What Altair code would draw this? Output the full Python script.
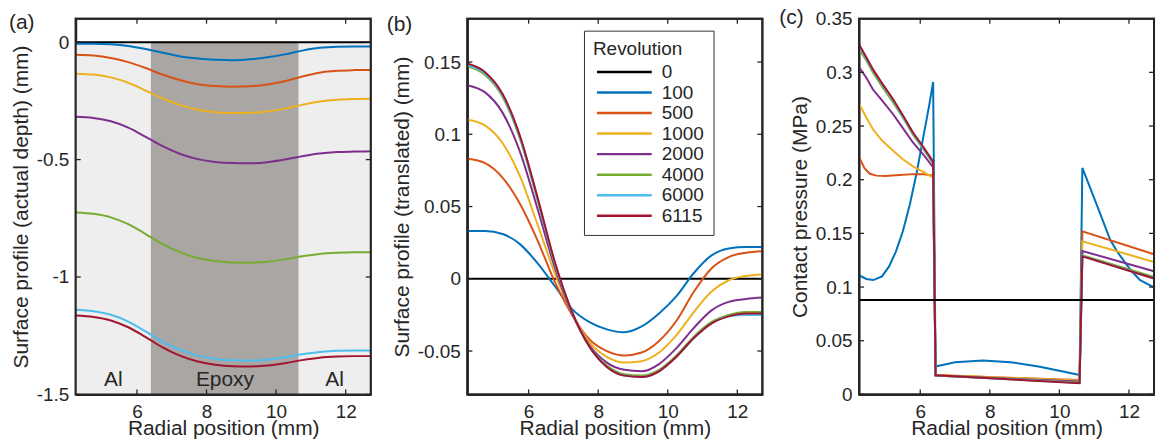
import altair as alt
import pandas as pd

# ---------------- data ----------------
REVS = ["0", "100", "500", "1000", "2000", "4000", "6000", "6115"]
COLORS = ["#000000", "#0072BD", "#D95319", "#EDB120", "#7E2F8E", "#77AC30", "#4DBEEE", "#A2142F"]

X_PROFILE = [4.24, 4.75, 5.25, 5.75, 6.25, 6.75, 7.25, 7.75, 8.25, 8.75,
             9.25, 9.75, 10.25, 10.75, 11.25, 11.75, 12.25, 12.72]

# (a) actual depth (mm)
A_0 = [0, 0, 0, 0, 0, 0, 0, 0, 0, 0, 0, 0, 0, 0, 0, 0, 0, 0]
A_100 = [-0.007, -0.007, -0.009, -0.016, -0.029, -0.045, -0.061, -0.070, -0.075, -0.077,
         -0.073, -0.064, -0.052, -0.036, -0.024, -0.019, -0.018, -0.018]
A_500 = [-0.054, -0.057, -0.067, -0.085, -0.110, -0.139, -0.162, -0.179, -0.187, -0.190,
         -0.188, -0.180, -0.166, -0.146, -0.130, -0.122, -0.119, -0.118]
A_1000 = [-0.134, -0.138, -0.150, -0.173, -0.206, -0.240, -0.268, -0.288, -0.298, -0.302,
          -0.301, -0.295, -0.283, -0.267, -0.253, -0.245, -0.242, -0.241]
A_2000 = [-0.318, -0.323, -0.337, -0.364, -0.403, -0.444, -0.476, -0.498, -0.510, -0.515,
          -0.516, -0.511, -0.500, -0.486, -0.474, -0.468, -0.466, -0.465]
A_4000 = [-0.725, -0.731, -0.746, -0.775, -0.817, -0.861, -0.895, -0.919, -0.932, -0.938,
          -0.939, -0.935, -0.925, -0.912, -0.902, -0.897, -0.895, -0.895]
A_6000 = [-1.140, -1.146, -1.161, -1.190, -1.232, -1.277, -1.311, -1.335, -1.349, -1.355,
          -1.356, -1.352, -1.342, -1.329, -1.319, -1.314, -1.313, -1.313]
A_6115 = [-1.164, -1.170, -1.185, -1.214, -1.256, -1.301, -1.336, -1.360, -1.374, -1.380,
          -1.381, -1.377, -1.367, -1.354, -1.344, -1.339, -1.337, -1.337]

# (b) translated profile (mm)
B_0 = [0, 0, 0, 0, 0, 0, 0, 0, 0, 0, 0, 0, 0, 0, 0, 0, 0, 0]
B_100 = [0.033, 0.033, 0.031, 0.024, 0.011, -0.005, -0.021, -0.030, -0.035, -0.037,
         -0.033, -0.024, -0.012, 0.004, 0.016, 0.021, 0.022, 0.022]
B_500 = [0.083, 0.080, 0.070, 0.052, 0.027, -0.002, -0.025, -0.042, -0.050, -0.053,
         -0.051, -0.043, -0.029, -0.009, 0.007, 0.015, 0.018, 0.019]
B_1000 = [0.110, 0.106, 0.094, 0.071, 0.038, 0.004, -0.024, -0.044, -0.054, -0.058,
          -0.057, -0.051, -0.039, -0.023, -0.009, -0.001, 0.002, 0.003]
B_2000 = [0.134, 0.129, 0.115, 0.088, 0.049, 0.008, -0.024, -0.046, -0.058, -0.063,
          -0.064, -0.059, -0.048, -0.034, -0.022, -0.016, -0.014, -0.013]
B_4000 = [0.147, 0.141, 0.126, 0.097, 0.055, 0.011, -0.023, -0.047, -0.060, -0.066,
          -0.067, -0.063, -0.053, -0.040, -0.030, -0.025, -0.023, -0.023]
B_6000 = [0.148, 0.142, 0.127, 0.098, 0.056, 0.011, -0.023, -0.047, -0.061, -0.067,
          -0.068, -0.064, -0.054, -0.041, -0.031, -0.026, -0.025, -0.025]
B_6115 = [0.149, 0.143, 0.128, 0.099, 0.057, 0.012, -0.023, -0.047, -0.061, -0.067,
          -0.068, -0.064, -0.054, -0.041, -0.031, -0.026, -0.024, -0.024]

# (c) contact pressure (MPa)
C_X_0 = [4.24, 12.72]
C_Y_0 = [0.088, 0.088]
C_X_100 = [4.24, 4.45, 4.65, 4.9, 5.1, 5.3, 5.5, 5.7, 5.9, 6.1, 6.25, 6.37, 6.44,
           7.0, 7.8, 8.6, 9.4, 10.0, 10.58, 10.66, 11.07, 11.46, 11.65, 11.89, 12.08, 12.32, 12.72]
C_Y_100 = [0.111, 0.1075, 0.1065, 0.110, 0.119, 0.133, 0.152, 0.177, 0.207, 0.242, 0.268, 0.291, 0.026,
           0.030, 0.0315, 0.030, 0.026, 0.022, 0.018, 0.211, 0.177, 0.144, 0.1336, 0.1227, 0.1147, 0.1064, 0.0996]
C_X_500 = [4.24, 4.4, 4.55, 4.74, 5.0, 5.4, 5.8, 6.1, 6.37, 6.44, 8.5, 10.58, 10.66, 12.72]
C_Y_500 = [0.221, 0.2105, 0.2055, 0.2038, 0.2035, 0.2043, 0.2052, 0.205, 0.2038, 0.018, 0.0155, 0.0135, 0.152, 0.1305]
C_X_LEFT = [4.24, 4.45, 4.64, 4.9, 5.22, 5.5, 5.79, 6.1, 6.37, 6.44, 10.58, 10.66, 12.72]
C_Y_1000 = [0.271, 0.258, 0.247, 0.2365, 0.227, 0.219, 0.2124, 0.207, 0.202, 0.018, 0.013, 0.1426, 0.1234]
C_Y_2000 = [0.305, 0.295, 0.284, 0.274, 0.261, 0.248, 0.2347, 0.223, 0.2115, 0.0175, 0.012, 0.1336, 0.1147]
C_Y_4000 = [0.322, 0.311, 0.300, 0.287, 0.272, 0.258, 0.242, 0.228, 0.215, 0.0175, 0.011, 0.1296, 0.1095]
C_Y_6000 = [0.325, 0.313, 0.302, 0.289, 0.274, 0.259, 0.243, 0.229, 0.216, 0.0177, 0.0107, 0.1288, 0.108]
C_Y_6115 = [0.326, 0.314, 0.3028, 0.290, 0.2749, 0.260, 0.244, 0.230, 0.2168, 0.0178, 0.0105, 0.1287, 0.1079]

# material bands of panel (a)
BAND_START = [4.24, 6.4, 10.65]
BAND_END = [6.4, 10.65, 12.72]
BAND_MATERIAL = ["Al", "Epoxy", "Al"]
BAND_LABEL_X = [5.32, 8.53, 11.68]
BAND_LABEL_Y = [-1.437, -1.437, -1.437]
MATERIALS = ["Al", "Epoxy"]
MATERIAL_COLORS = ["#EDEEED", "#A9A6A3"]

X_TICKS = [6, 8, 10, 12]
A_TICKS = [-1.5, -1, -0.5, 0]
B_TICKS = [-0.05, 0, 0.05, 0.1, 0.15]
C_TICKS = [0, 0.05, 0.1, 0.15, 0.2, 0.25, 0.3, 0.35]

X_DOMAIN = [4.24, 12.72]
A_DOMAIN = [-1.5, 0.1]
B_DOMAIN = [-0.08, 0.18]
C_DOMAIN = [0, 0.35]

# ---------------- styling ----------------
W, H = 296, 377
TICK = 5
INK = "#262626"
FONT = "Liberation Sans"


def long_df(xs_list, ys_list):
    rows = []
    for rev, xs, ys in zip(REVS, xs_list, ys_list):
        for i, (x, y) in enumerate(zip(xs, ys)):
            rows.append({"x": x, "y": y, "rev": rev, "i": i})
    return pd.DataFrame(rows)


df_a = long_df([X_PROFILE] * 8, [A_0, A_100, A_500, A_1000, A_2000, A_4000, A_6000, A_6115])
df_b = long_df([X_PROFILE] * 8, [B_0, B_100, B_500, B_1000, B_2000, B_4000, B_6000, B_6115])
df_c = long_df([C_X_0, C_X_100, C_X_500, C_X_LEFT, C_X_LEFT, C_X_LEFT, C_X_LEFT, C_X_LEFT],
               [C_Y_0, C_Y_100, C_Y_500, C_Y_1000, C_Y_2000, C_Y_4000, C_Y_6000, C_Y_6115])

xscale = alt.Scale(domain=X_DOMAIN, nice=False, zero=False)
color_scale = alt.Scale(domain=REVS, range=COLORS)


def x_axis():
    return alt.Axis(values=X_TICKS, ticks=False, domain=True, domainColor=INK, domainWidth=2,
                    grid=False, title="Radial position (mm)", labelPadding=8, titlePadding=-4)


def y_axis(vals, title):
    return alt.Axis(values=vals, ticks=False, domain=True, domainColor=INK, domainWidth=2,
                    grid=False, title=title,
                    labelExpr="toString(datum.value)", labelPadding=7, titlePadding=5)


def tick_layers(yvals, yscale, ydomain, ytitle):
    xe = alt.X("v:Q", scale=xscale, axis=x_axis())
    ye = alt.Y("v:Q", scale=yscale, axis=y_axis(yvals, ytitle))
    tx = alt.Chart(pd.DataFrame({"v": X_TICKS})).mark_rule(color=INK, strokeWidth=1.3)
    ty = alt.Chart(pd.DataFrame({"v": yvals})).mark_rule(color=INK, strokeWidth=1.3)
    # box around the plot area, placed at the domain ends
    frame = alt.Chart(pd.DataFrame({"x0": [X_DOMAIN[0]], "x1": [X_DOMAIN[1]],
                                    "y0": [ydomain[0]], "y1": [ydomain[1]]})).mark_rect(
        filled=False, color=INK, strokeWidth=2, opacity=1
    ).encode(x=alt.X("x0:Q", scale=xscale, axis=x_axis()), x2="x1:Q",
             y=alt.Y("y0:Q", scale=yscale, axis=y_axis(yvals, ytitle)), y2="y1:Q")
    return [
        tx.encode(x=xe, y=alt.value(0), y2=alt.value(TICK)),
        tx.encode(x=xe, y=alt.value(H), y2=alt.value(H - TICK)),
        ty.encode(y=ye, x=alt.value(0), x2=alt.value(TICK)),
        ty.encode(y=ye, x=alt.value(W), x2=alt.value(W - TICK)),
        frame,
    ]


def panel_label(text, dx, dy):
    return alt.Chart(pd.DataFrame({"t": [text]})).mark_text(
        align="left", baseline="middle", fontSize=21, font=FONT, color=INK
    ).encode(text="t:N", x=alt.value(dx), y=alt.value(dy))


def lines(df, yscale, yaxis, legend, interp):
    return alt.Chart(df).mark_line(strokeWidth=2, interpolate=interp).encode(
        x=alt.X("x:Q", scale=xscale, axis=x_axis()),
        y=alt.Y("y:Q", scale=yscale, axis=yaxis),
        color=alt.Color("rev:N", scale=color_scale, legend=legend),
        order="i:Q",
    )


# ---- panel (a)
TITLE_A = "Surface profile (actual depth) (mm)"
ya = alt.Scale(domain=A_DOMAIN, nice=False, zero=False)
bands = pd.DataFrame({"x0": BAND_START, "x1": BAND_END, "m": BAND_MATERIAL})
band_rect = alt.Chart(bands).mark_rect().encode(
    x=alt.X("x0:Q", scale=xscale, axis=x_axis()),
    x2="x1:Q",
    y=alt.Y("top:Q", scale=ya, axis=y_axis(A_TICKS, TITLE_A)),
    y2="bot:Q",
    fill=alt.Fill("m:N", scale=alt.Scale(domain=MATERIALS, range=MATERIAL_COLORS), legend=None),
).transform_calculate(top="0", bot="-1.5")
band_text = alt.Chart(pd.DataFrame({"x": BAND_LABEL_X, "y": BAND_LABEL_Y, "t": BAND_MATERIAL})).mark_text(
    fontSize=21, font=FONT, color=INK, baseline="middle"
).encode(x=alt.X("x:Q", scale=xscale, axis=x_axis()),
         y=alt.Y("y:Q", scale=ya, axis=y_axis(A_TICKS, TITLE_A)), text="t:N")
line_a = lines(df_a, ya, y_axis(A_TICKS, TITLE_A), None, "monotone")
panel_a = alt.layer(band_rect, band_text, line_a, *tick_layers(A_TICKS, ya, A_DOMAIN, TITLE_A),
                    panel_label("(a)", -67, 4)).properties(width=W, height=H)

# ---- panel (b)
TITLE_B = "Surface profile (translated) (mm)"
yb = alt.Scale(domain=B_DOMAIN, nice=False, zero=False)
legend_b = alt.Legend(
    orient="none", legendX=117, legendY=12, title="Revolution",
    titleFontSize=19, titleFontWeight="normal", titleColor=INK, titleFont=FONT,
    labelFontSize=19, labelColor=INK, labelFont=FONT,
    symbolType="M-1,0L9,0", symbolSize=121, symbolStrokeWidth=2.5,
    fillColor="white", strokeColor="#333333", padding=9, rowPadding=0.6, labelOffset=50,
    titlePadding=4,
)
line_b = lines(df_b, yb, y_axis(B_TICKS, TITLE_B), legend_b, "monotone")
panel_b = alt.layer(line_b, *tick_layers(B_TICKS, yb, B_DOMAIN, TITLE_B),
                    panel_label("(b)", -81, 6)).properties(width=W, height=H)

# ---- panel (c)
TITLE_C = "Contact pressure (MPa)"
yc = alt.Scale(domain=C_DOMAIN, nice=False, zero=False)
line_c = lines(df_c[df_c.rev != "0"], yc, y_axis(C_TICKS, TITLE_C), None, "linear")
line_c0 = lines(df_c[df_c.rev == "0"], yc, y_axis(C_TICKS, TITLE_C), None, "linear")
panel_c = alt.layer(line_c, line_c0, *tick_layers(C_TICKS, yc, C_DOMAIN, TITLE_C),
                    panel_label("(c)", -80, -1)).properties(width=W, height=H)

chart = alt.hconcat(panel_a, panel_b, panel_c, spacing=97, bounds="flush").resolve_scale(
    x="independent", y="independent", color="independent", fill="independent"
).properties(
    padding={"left": 8, "top": 5, "right": 0, "bottom": 0}, background="white"
).configure_view(
    stroke=INK, strokeWidth=2
).configure_axis(
    labelFont=FONT, titleFont=FONT, labelFontSize=19, titleFontSize=21,
    labelColor=INK, titleColor=INK, titleFontWeight="normal"
)

chart.save("out.html", embed_options={"renderer": "svg", "actions": False})
